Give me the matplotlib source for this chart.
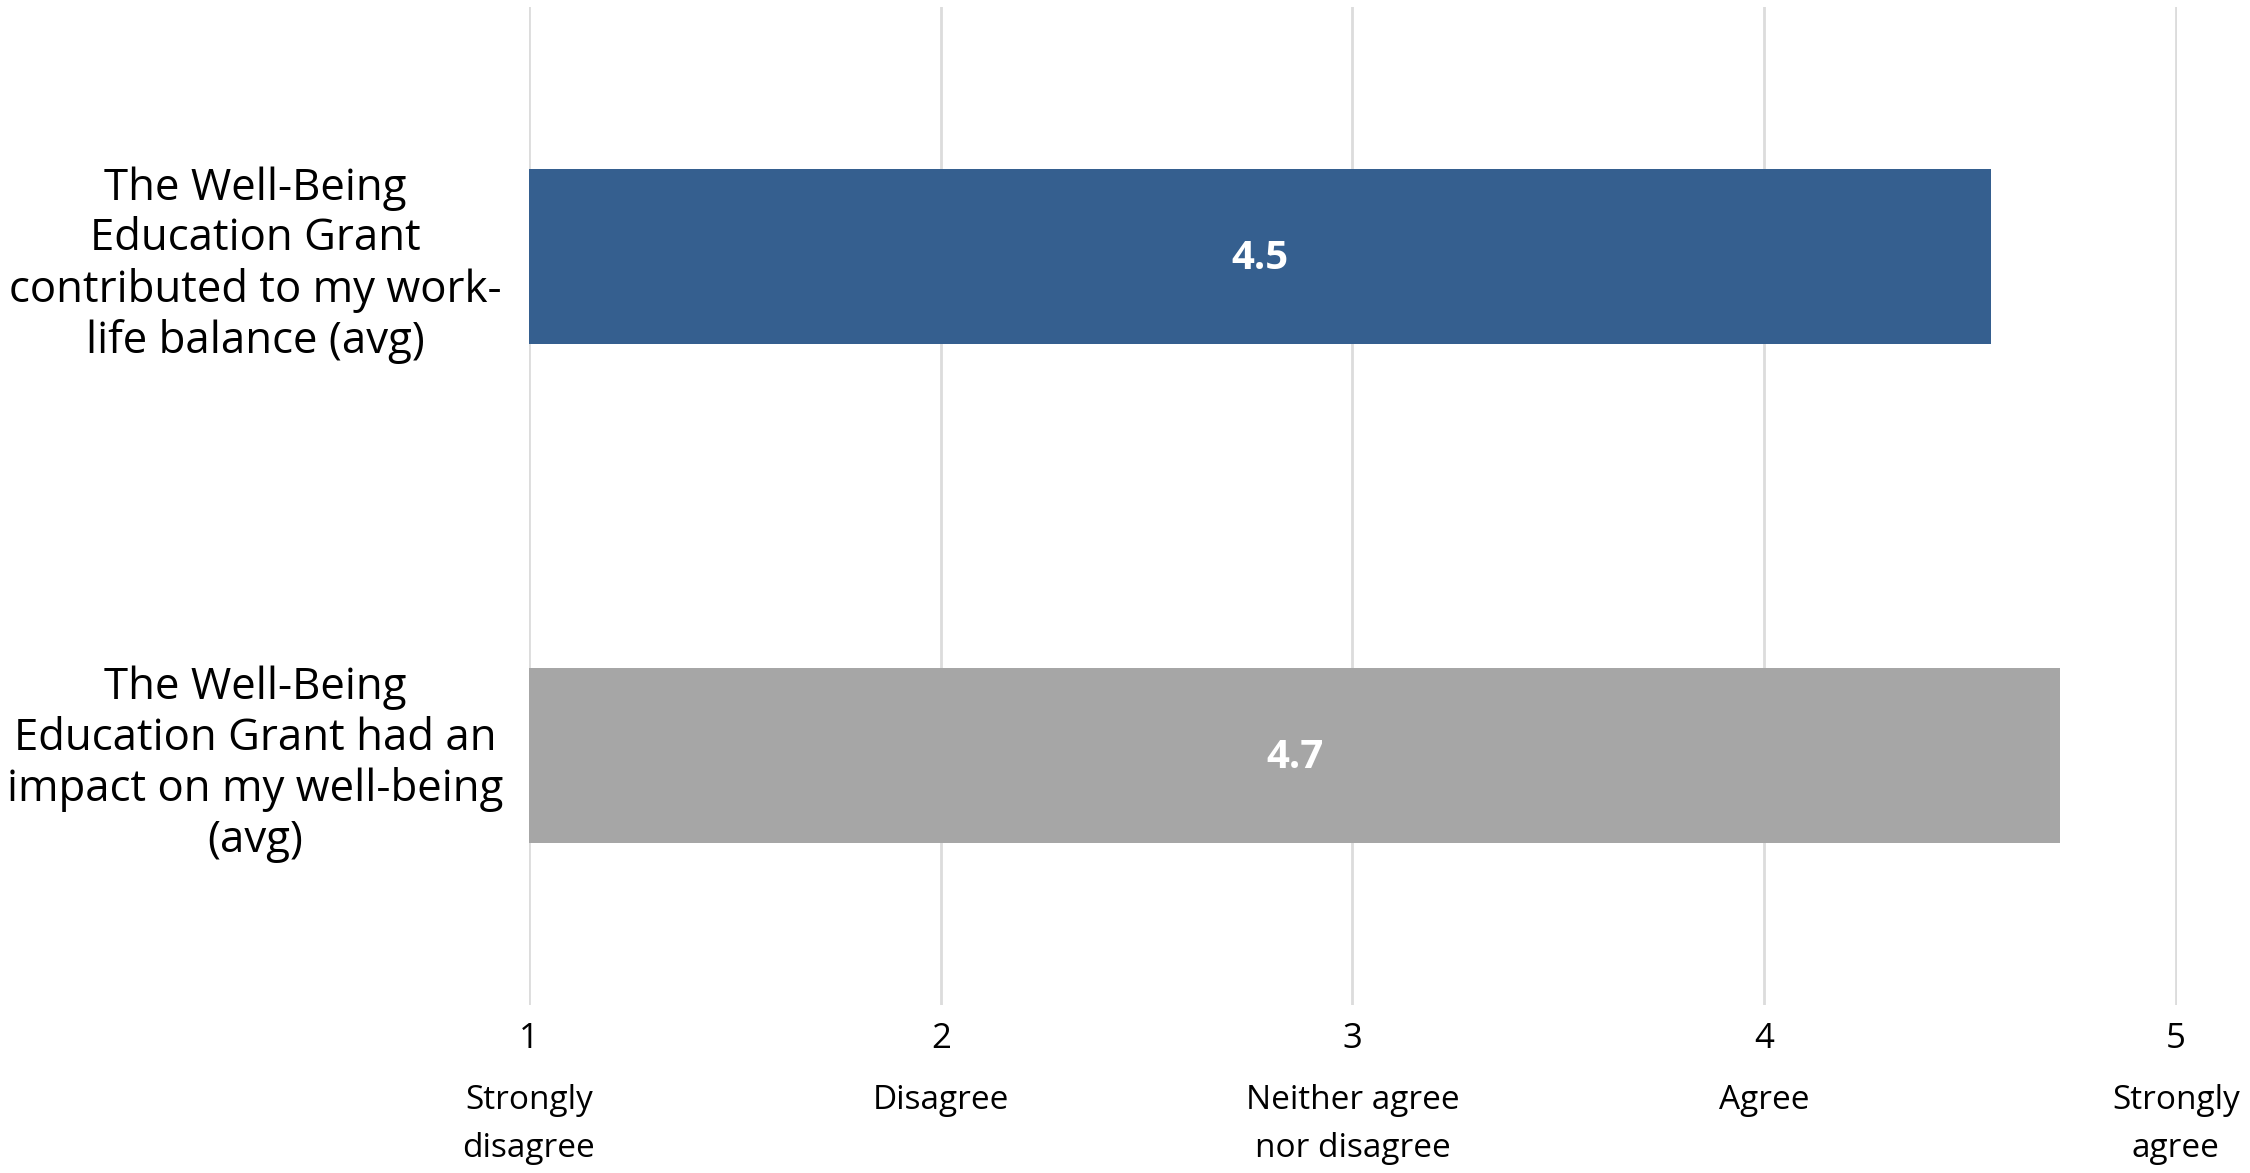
import numpy as np
import matplotlib
matplotlib.use("Agg")
import matplotlib.pyplot as plt

plt.rcParams['font.family'] = ['Open Sans', 'DejaVu Sans']

items = ["The Well-Being\nEducation Grant\ncontributed to my work-\nlife balance (avg)",
         "The Well-Being\nEducation Grant had an\nimpact on my well-being\n(avg)"]
avg_values = [4.55, 4.72]
value_labels = ["4.5", "4.7"]
bar_colors = ["#355F8F", "#A6A6A6"]

scale_ticks = [1, 2, 3, 4, 5]
scale_labels = ["Strongly\ndisagree", "Disagree", "Neither agree\nnor disagree", "Agree", "Strongly\nagree"]

fig = plt.figure(figsize=(22.5, 11.73), dpi=100)
ax = fig.add_axes([529/2250, 1 - 1005/1173, (2177-529)/2250, 998/1173])

y = np.arange(len(items))
ax.barh(y, avg_values, height=0.35, color=bar_colors, zorder=2)

for yi, v, lab in zip(y, avg_values, value_labels):
    ax.text((1 + v) / 2, yi + 0.005, lab, ha="center", va="center", color="white",
            fontsize=29, fontweight="bold", zorder=3)

ax.set_xlim(1, 5.003)
ax.set_ylim(1.5, -0.5)
ax.set_xticks(scale_ticks)
ax.set_xticklabels([str(t) for t in scale_ticks], fontsize=25)
ax.set_yticks(y)
ax.set_yticklabels(items, fontsize=31.5, ha="center", multialignment="center", linespacing=1.19)
ax.tick_params(axis="y", length=0, pad=197)
ax.tick_params(axis="x", length=0, pad=12)

ax.grid(axis="x", color="#DCDCDC", linewidth=2, zorder=0)
ax.grid(axis="y", visible=False)
for s in ax.spines.values():
    s.set_visible(False)

for t, lab in zip(scale_ticks, scale_labels):
    ax.text(t, -0.079, lab, transform=ax.get_xaxis_transform(), ha="center", va="top",
            fontsize=24, linespacing=1.6)

fig.savefig("out.png", dpi=100, facecolor="white")
